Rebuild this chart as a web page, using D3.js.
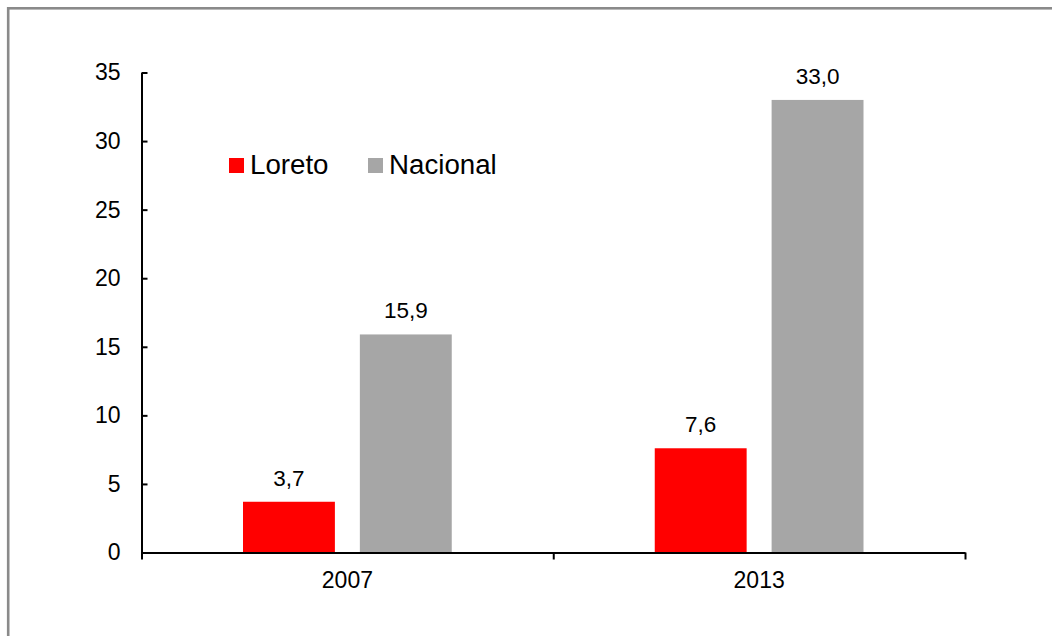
<!DOCTYPE html>
<html>
<head>
<meta charset="utf-8">
<script src="https://cdn.jsdelivr.net/npm/d3@7"></script>
<style>
  html, body { margin: 0; padding: 0; background: #fff; }
  svg { display: block; font-family: "Liberation Sans", Arial, sans-serif; }
</style>
</head>
<body>
<svg id="chart" width="1052" height="636"></svg>
<script>
const categories = ["2007", "2013"];
const seriesNames = ["Loreto", "Nacional"];
const loretoValues = [3.7, 7.6];
const nacionalValues = [15.9, 33.0];
const yTicks = [0, 5, 10, 15, 20, 25, 30, 35];
const seriesColors = ["#FF0000", "#A6A6A6"];

const svg = d3.select("#chart");

// outer frame (clipped at right/bottom like the reference)
svg.append("rect")
  .attr("x", 8.2).attr("y", 8.3)
  .attr("width", 1200).attr("height", 800)
  .attr("fill", "none")
  .attr("stroke", "#8a8a8a")
  .attr("stroke-width", 2.6);

const plot = { left: 141.5, right: 965, top: 72.5, bottom: 552.5 };

const y = d3.scaleLinear().domain([0, 35]).range([plot.bottom, plot.top]);
const x0 = d3.scaleBand().domain(categories).range([plot.left, plot.right]).padding(0);
const groupPad = 101.5;
const x1 = d3.scaleBand().domain(seriesNames)
  .range([groupPad, x0.bandwidth() - groupPad])
  .paddingInner(25 / 117).paddingOuter(0);

const data = categories.map((c, i) => ({
  cat: c,
  vals: [
    { s: seriesNames[0], v: loretoValues[i], color: seriesColors[0] },
    { s: seriesNames[1], v: nacionalValues[i], color: seriesColors[1] }
  ]
}));

// bars
const groups = svg.append("g").selectAll("g").data(data).join("g")
  .attr("transform", d => `translate(${x0(d.cat)},0)`);

groups.selectAll("rect").data(d => d.vals).join("rect")
  .attr("x", d => x1(d.s))
  .attr("y", d => y(d.v))
  .attr("width", x1.bandwidth())
  .attr("height", d => y(0) - y(d.v))
  .attr("fill", d => d.color);

groups.selectAll("text").data(d => d.vals).join("text")
  .attr("x", d => x1(d.s) + x1.bandwidth() / 2)
  .attr("y", d => y(d.v) - 16)
  .attr("text-anchor", "middle")
  .attr("font-size", 22.5)
  .attr("fill", "#000")
  .text(d => d.v.toFixed(1).replace(".", ","));

// y axis
const yAxis = d3.axisLeft(y).tickValues(yTicks).tickSizeInner(-6).tickSizeOuter(0).tickPadding(21)
  .tickFormat(d3.format("d"));
const gy = svg.append("g").attr("transform", `translate(${plot.left},0)`).call(yAxis);
gy.selectAll("text").attr("font-size", 23).attr("fill", "#000").attr("font-family", "Liberation Sans, Arial, sans-serif");
gy.selectAll("line").attr("stroke", "#000").attr("stroke-width", 2);
gy.select(".domain").attr("stroke", "#000").attr("stroke-width", 2);

// x axis: labels at band centers
const xAxis = d3.axisBottom(x0).tickSize(0).tickPadding(19.5);
const gx = svg.append("g").attr("transform", `translate(0,${plot.bottom})`).call(xAxis);
gx.selectAll("text").attr("font-size", 23).attr("fill", "#000").attr("font-family", "Liberation Sans, Arial, sans-serif");
gx.select(".domain").attr("stroke", "#000").attr("stroke-width", 2);

// x axis boundary ticks
const xb = d3.scaleLinear().domain([0, categories.length]).range([plot.left, plot.right]);
const gxb = svg.append("g").attr("transform", `translate(0,${plot.bottom})`)
  .call(d3.axisBottom(xb).tickValues(d3.range(categories.length + 1)).tickFormat("").tickSizeInner(7).tickSizeOuter(0));
gxb.select(".domain").remove();
gxb.selectAll("line").attr("stroke", "#000").attr("stroke-width", 2);

// legend
const legendItems = [
  { name: seriesNames[0], color: seriesColors[0], x: 229 },
  { name: seriesNames[1], color: seriesColors[1], x: 368 }
];
const lg = svg.append("g");
const li = lg.selectAll("g").data(legendItems).join("g")
  .attr("transform", d => `translate(${d.x},158)`);
li.append("rect").attr("width", 15).attr("height", 15).attr("fill", d => d.color);
li.append("text").attr("x", 21).attr("y", 15.5)
  .attr("font-size", 27.7).attr("fill", "#000").text(d => d.name);
</script>
</body>
</html>
